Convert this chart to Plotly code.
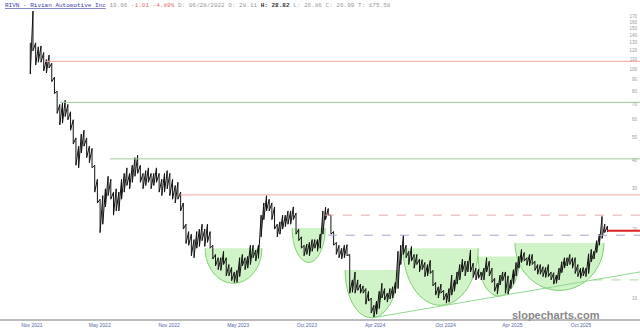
import pandas as pd
import plotly.graph_objects as go

# ---------------- data (weekly high / low, Fridays) ----------------
hi_2021 = [130, 179, 130, 125, 126, 118, 110, 115]
lo_2021 = [95, 120, 104, 107, 107, 98, 96, 101]

hi_2022 = [106, 92, 80, 70, 71, 73, 70, 65, 60, 50, 46, 52, 54, 50, 46, 45, 38,
           33, 27, 28, 30, 34, 33, 29, 30, 29, 33, 35, 37, 35, 38, 41, 42, 38,
           35, 36, 37, 35, 35, 37, 35, 33, 35, 36, 35, 33, 31, 32, 29, 26, 21, 19.5]
lo_2022 = [88, 78, 64, 57, 58, 62, 60, 54, 47, 38, 37, 43, 46, 41, 39, 37, 29,
           26, 19.3, 21, 25, 28, 27, 23, 24, 24, 27, 29, 31, 30, 32, 34, 35, 32,
           30, 31, 32, 30, 31, 32, 29, 28, 29, 30, 28, 27, 26, 27, 24, 20, 17.3, 17]

hi_2023 = [19, 18, 19.5, 20, 21, 20, 21, 19.5, 17, 15.5, 15, 15, 16, 15, 14, 13.6, 13,
           13.2, 15, 15.5, 15, 15.2, 17, 17, 16.2, 17, 23, 26, 28, 27, 26, 25, 21, 21.5,
           23, 23, 24, 24, 25, 23.5, 20, 18.5, 17, 17.2, 17.5, 18, 18, 18, 19, 24, 24.9, 24.6]
lo_2023 = [15.3, 15, 16.5, 16.8, 17.8, 16.8, 17.5, 16.5, 14.8, 13.8, 13.3, 13.2, 14,
           12.5, 12.5, 11.9, 11.7, 11.7, 12.4, 13.8, 13.3, 13.5, 14, 15, 14.5, 14.9,
           18.5, 22, 24, 24, 22, 20, 18.5, 19, 20, 20.5, 21, 21, 22, 19, 17.8, 16.5, 15.3,
           15.5, 15.3, 16, 16.5, 16, 16.5, 19, 22, 23]

hi_2024 = [23, 19.5, 17.5, 17, 16.5, 17, 17.1, 15.5, 12, 13, 12, 11.5, 11.3, 11, 10.7, 10, 9.3,
           9.7, 10.7, 11.6, 11, 10.5, 11, 11.2, 11.7, 16, 17, 18.8, 17, 16, 16.8, 15.5, 15.5,
           14.8, 14.7, 14.3, 14, 14.6, 13.2, 11.7, 11.2, 11.5, 10.8, 10.5, 11, 12.6, 12, 13,
           14, 14.8, 14.5, 14.5]
lo_2024 = [19, 17, 15.5, 15, 14.8, 15, 15.3, 10.5, 10.6, 10.5, 10.8, 10.5, 10.5, 9.4, 9.7, 8.6, 8.26,
           8.5, 9, 10, 9.8, 9.6, 9.9, 10, 10.5, 11, 14, 15.5, 15, 14, 14.5, 13.5, 14, 13, 13.3,
           12.4, 12.5, 12.8, 11.3, 10.3, 10, 10.5, 9.8, 9.5, 9.6, 10.3, 10.7, 11.5, 12, 13, 12.5, 13]

hi_2025 = [16.2, 14.2, 13.5, 13.4, 13, 13.5, 15, 14.5, 13.5, 12.2, 11.6, 12.6, 13, 13, 12.5, 12, 13.3,
           14.3, 15.2, 16.3, 15.8, 15, 15.5, 15.5, 14.5, 14, 14, 13.7, 13.6, 14, 13, 12.9, 12.6,
           13.5, 14.4, 15, 15, 15.5, 15, 15, 14, 13.5, 13.6, 13.5, 15.6, 16.3, 16, 17.8, 19, 22.7,
           21, 20.6]
lo_2025 = [13, 12.3, 12, 12.2, 12, 12, 13, 12.5, 11.7, 10.7, 10.4, 11.4, 11.9, 10.5, 10.4, 11, 11.5,
           12.5, 13.5, 14.3, 14.5, 13.9, 13.8, 14, 13.2, 12.7, 12.7, 12.4, 12.3, 12.4, 12, 11.5, 11.6,
           12, 12.9, 13.5, 13.8, 14, 13.5, 12.8, 12.4, 12.2, 12.5, 12.4, 12.8, 14.4, 14.8, 15.8, 17,
           18.2, 19.3, 19.4]

last_price = 19.66

# axis ticks
x_tick_dates = ["2021-11-16", "2022-05-12", "2022-11-09", "2023-05-08", "2023-11-03",
                "2024-04-29", "2024-10-30", "2025-04-22", "2025-10-18"]
x_tick_labels = ["Nov 2021", "May 2022", "Nov 2022", "May 2023", "Oct 2023",
                 "Apr 2024", "Oct 2024", "Apr 2025", "Oct 2025"]
y_tick_vals = [10, 20, 30, 40, 50, 60, 70, 80, 90, 100, 110, 120, 130, 140, 150, 160, 170]

# drawn levels: (start date, price, colour, dash)
levels = [
    ("2021-12-20", 108, "#f2a0a0", "solid"),
    ("2022-01-28", 71.5, "#9ccc9c", "solid"),
    ("2022-06-08", 40.5, "#9ccc9c", "solid"),
    ("2022-12-07", 28.2, "#f2a0a0", "solid"),
    ("2023-12-20", 23.0, "#e8a8a8", "dash"),
    ("2023-12-28", 18.8, "#a8a8d0", "dash"),
    ("2025-11-20", 12.0, "#a8dca0", "dash"),
]
trend_dates = ["2024-04-23", "2026-03-21"]
trend_vals = [8.2, 13.0]

# cups: start, end, rim price, bottom price
cup_start = ["2023-02-11", "2023-09-26", "2024-02-11", "2024-07-11", "2025-01-23", "2025-04-29"]
cup_end = ["2023-07-09", "2023-12-21", "2024-06-28", "2025-01-23", "2025-05-12", "2025-12-17"]
cup_rim = [16.5, 20.2, 13.25, 16.5, 15.2, 17.4]
cup_bottom = [11.6, 14.3, 8.2, 9.3, 10.2, 10.8]

# ---------------- figure ----------------
hi = hi_2021 + hi_2022 + hi_2023 + hi_2024 + hi_2025
lo = lo_2021 + lo_2022 + lo_2023 + lo_2024 + lo_2025
weeks = pd.date_range("2021-11-12", periods=len(hi), freq="W-FRI")

px, py = [], []
for d, h, l in zip(weeks, hi, lo):
    px += [d, d]
    py += [h, l]

fig = go.Figure()
fig.add_trace(go.Scatter(x=px, y=py, mode="lines",
                         line=dict(color="#111111", width=1), hoverinfo="skip"))

x_end = "2026-03-21"
shapes = []
K = 0.5523
for s, e, rim, bot in zip(cup_start, cup_end, cup_rim, cup_bottom):
    t0, t1 = pd.Timestamp(s), pd.Timestamp(e)
    tc = t0 + (t1 - t0) / 2
    ca = t0 + (tc - t0) * (1 - K)
    cb = tc + (t1 - tc) * K
    ym = rim * (bot / rim) ** K
    f = lambda t: t.strftime("%Y-%m-%d")
    body = (f"M {f(t0)},{rim} C {f(t0)},{ym} {f(ca)},{bot} {f(tc)},{bot} "
            f"C {f(cb)},{bot} {f(t1)},{ym} {f(t1)},{rim}")
    shapes.append(dict(type="path", path=body + " Z", xref="x", yref="y", layer="below",
                       fillcolor="rgba(150,228,130,0.45)", line=dict(width=0)))
    shapes.append(dict(type="path", path=body, xref="x", yref="y", layer="below",
                       fillcolor="rgba(0,0,0,0)", line=dict(color="#7fd070", width=1)))

for d0, v, c, dash in levels:
    shapes.append(dict(type="line", xref="x", yref="y", x0=d0, x1=x_end, y0=v, y1=v,
                       line=dict(color=c, width=1, dash=dash)))
shapes.append(dict(type="line", xref="x", yref="y", x0=trend_dates[0], x1=trend_dates[1],
                   y0=trend_vals[0], y1=trend_vals[1], line=dict(color="#8fd88f", width=1)))
shapes.append(dict(type="line", xref="x", yref="y", x0=weeks[-1], x1=x_end,
                   y0=last_price, y1=last_price, line=dict(color="#dd2020", width=2)))

header = ("<u>RIVN - Rivian Automotive Inc</u> "
          "<span style='color:#999'>19.66</span> "
          "<span style='color:#e07070'>-1.01 -4.89%</span> "
          "<span style='color:#999'>D: 06/28/2022 O: 28.11</span> "
          "<b><span style='color:#333'>H: 28.82</span></b> "
          "<span style='color:#999'>L: 26.86 C: 26.99 T: 175.58</span>")

fig.update_layout(
    width=640, height=335,
    margin=dict(l=0, r=0, t=0, b=16),
    paper_bgcolor="white", plot_bgcolor="white",
    showlegend=False,
    shapes=shapes,
    xaxis=dict(type="date", range=["2021-08-25", x_end], tickvals=x_tick_dates,
               ticktext=x_tick_labels, showgrid=False, zeroline=False, ticks="",
               showline=True, linecolor="#bbbbbb", linewidth=2,
               tickfont=dict(family="Liberation Sans", size=5, color="#5566aa")),
    yaxis=dict(type="log", side="right", range=[0.9085, 2.301], tickvals=y_tick_vals,
               ticktext=[str(v) for v in y_tick_vals], ticklabelposition="inside",
               showgrid=False, zeroline=False, ticks="", showline=False,
               tickfont=dict(family="Liberation Sans", size=4.5, color="#999999")),
    annotations=[
        dict(text=header, xref="paper", yref="paper", x=0.004, y=1.0, xanchor="left",
             yanchor="top", showarrow=False,
             font=dict(family="Liberation Mono", size=6, color="#3a3aaa")),
        dict(text="<b>slopecharts.com</b>", xref="paper", yref="paper", x=0.94, y=0.0,
             xanchor="right", yanchor="bottom", yshift=-4, showarrow=False,
             font=dict(family="Liberation Sans", size=11, color="#888888")),
    ],
)

fig.write_html("out.html")
